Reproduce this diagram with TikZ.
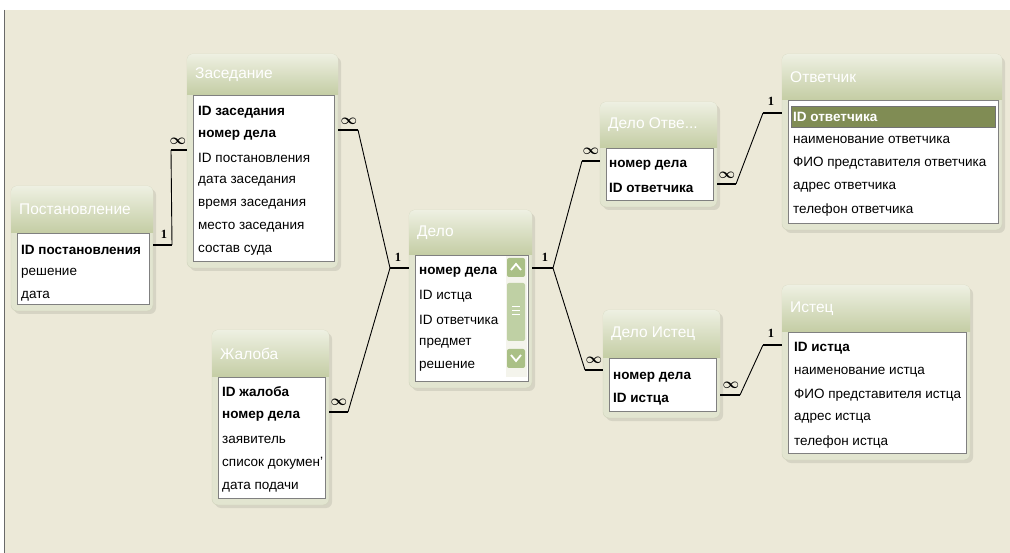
\documentclass[tikz,border=0pt]{standalone}
\usepackage{fontspec}
\setmainfont{Liberation Sans}
\newfontfamily\lblfont{Liberation Serif}
\usetikzlibrary{fit}
\definecolor{PanelBg} {RGB}{236,233,216}
\definecolor{PanelLn} {RGB}{105,105,105}
\definecolor{FrmFill} {RGB}{226,229,208}
\definecolor{FrmLine} {RGB}{208,211,188}
\definecolor{FrmShd}  {RGB}{214,212,196}
\definecolor{HdrTop}  {RGB}{238,240,226}
\definecolor{HdrBot}  {RGB}{196,205,164}
\definecolor{ListLine}{RGB}{128,128,128}
\definecolor{RowSel}  {RGB}{128,140,84}
\definecolor{ScrBtn}  {RGB}{170,192,134}
\definecolor{ScrTrk}  {RGB}{244,244,236}
\tikzset{
  tb_frame/.style={
    rectangle, rounded corners=6pt, fill=FrmFill, draw=FrmLine, inner sep=0pt},
  tb_list/.style={
    rectangle, fill=white, draw=ListLine, line width=0.8pt, inner sep=0pt},
  tb_title/.style={
    anchor=west, text=white, inner sep=0pt,
    font=\fontsize{15.5}{16}\selectfont},
  fld/.style={
    anchor=west, inner sep=0pt, font=\fontsize{13.5}{14}\selectfont},
  fld_key/.style={
    fld, font=\fontsize{13.5}{14}\selectfont\bfseries},
  stub/.style={line width=2.6pt, black},
  rel/.style={line width=0.9pt, black},
  lbl_one/.style={font=\lblfont\bfseries\fontsize{12.5}{12.5}\selectfont, inner sep=0pt},
  lbl_many/.style={font=\boldmath\fontsize{15}{15}\selectfont, inner sep=0pt},
}
%% name, x1, y1, x2, y2, list top, title
\newcommand{\dbtable}[7]{%
  \fill[FrmShd, rounded corners=6pt] ({#2+3},{#3+3}) rectangle ({#4+3},{#5+3});
  \node[tb_frame, fit={(#2,#3)(#4,#5)}] (#1) {};
  \shade[top color=HdrTop, bottom color=HdrBot]
    (#2,#6) [rounded corners=6pt] -- (#2,#3) -- (#4,#3) [sharp corners] -- (#4,#6) -- cycle;
  \node[tb_list, fit={({#2+6},#6)({#4-4},{#5-7})}] (#1l) {};
  \node[tb_title] (#1t) at ({#2+8},{(#3+#6)/2}) {#7};
}

\begin{document}
\begin{tikzpicture}[x=1pt,y=-1pt]

\useasboundingbox (0,0) rectangle (1010,553);
%% window background
\fill[white] (0,0) rectangle (1010,553);
\fill[PanelBg] (4,10) rectangle (1010,553);
\draw[PanelLn, line width=1.2pt] (4.6,10) -- (4.6,553);

%% tables
\dbtable{post}{11}{186}{153}{311}{233}{Постановление}
\dbtable{zas}{187}{54}{338}{268}{95}{Заседание}
\dbtable{zhal}{212}{330}{329}{505}{377}{Жалоба}
\dbtable{delo}{409}{210}{532}{388}{255}{Дело}
\dbtable{dotv}{600}{102}{717}{207}{148}{Дело Отве...}
\dbtable{dist}{603}{310}{720}{418}{358}{Дело Истец}
\dbtable{otv}{782}{54}{1002}{230}{100}{Ответчик}
\dbtable{ist}{782}{285}{970}{460}{332}{Истец}

%% Постановление
\node[fld_key] (post1) at (21,250) {ID постановления};
\node[fld]     (post2) at (21,273) {решение};
\node[fld]     (post3) at (21,296) {дата};

%% Заседание
\node[fld_key] (zas1) at (198,112) {ID заседания};
\node[fld_key] (zas2) at (198,135) {номер дела};
\node[fld]     (zas3) at (198,158) {ID постановления};
\node[fld]     (zas4) at (198,181) {дата заседания};
\node[fld]     (zas5) at (198,204) {время заседания};
\node[fld]     (zas6) at (198,227) {место заседания};
\node[fld]     (zas7) at (198,250) {состав суда};

%% Жалоба
\node[fld_key] (zhal1) at (222,392) {ID жалоба};
\node[fld_key] (zhal2) at (222,416) {номер дела};
\node[fld]     (zhal3) at (222,440) {заявитель};
\node[fld]     (zhal4) at (222,463) {список докумен'};
\node[fld]     (zhal5) at (222,487) {дата подачи};

%% Дело, with scroll bar
\fill[ScrTrk] (506,256) rectangle (527,377);
\fill[ScrBtn, rounded corners=2pt] (507,258) rectangle (525,277);
\fill[ScrBtn!75, rounded corners=2pt] (507,283) rectangle (525,341);
\fill[ScrBtn, rounded corners=2pt] (507,349) rectangle (525,368);
\draw[white, line width=1.8pt] (511,270) -- (516,264) -- (521,270);
\draw[white, line width=1.8pt] (511,355) -- (516,361) -- (521,355);
\foreach \y in {306,310,314} {\draw[white, line width=0.8pt] (512,\y) -- (520,\y);}
\node[fld_key] (delo1) at (419,272) {номер дела};
\node[fld]     (delo2) at (419,296) {ID истца};
\node[fld]     (delo3) at (419,320) {ID ответчика};
\node[fld]     (delo4) at (419,343) {предмет};
\node[fld]     (delo5) at (419,366) {решение};

%% Дело Отве...
\node[fld_key] (dotv1) at (609,165) {номер дела};
\node[fld_key] (dotv2) at (609,188) {ID ответчика};

%% Дело Истец
\node[fld_key] (dist1) at (613,377) {номер дела};
\node[fld_key] (dist2) at (613,399) {ID истца};

%% Ответчик
\node[fill=RowSel, draw=black!55, fit={(791,106)(995,127)}, inner sep=0pt] (otvsel) {};
\node[fld_key, text=white] (otv1) at (793,117) {ID ответчика};
\node[fld] (otv2) at (793,140) {наименование ответчика};
\node[fld] (otv3) at (793,163) {ФИО представителя ответчика};
\node[fld] (otv4) at (793,187) {адрес ответчика};
\node[fld] (otv5) at (793,210) {телефон ответчика};

%% Истец
\node[fld_key] (ist1) at (794,348) {ID истца};
\node[fld]     (ist2) at (794,372) {наименование истца};
\node[fld]     (ist3) at (794,395) {ФИО представителя истца};
\node[fld]     (ist4) at (794,418) {адрес истца};
\node[fld]     (ist5) at (794,442) {телефон истца};

%% stub ends
\coordinate (postR) at (172,245);
\coordinate (zasL)  at (171,150);
\coordinate (zasR)  at (358,130);
\coordinate (zhalR) at (348,412);
\coordinate (deloL) at (390,268);
\coordinate (deloR) at (553,268);
\coordinate (dotvL) at (582,161);
\coordinate (dotvR) at (736,184);
\coordinate (distL) at (585,370);
\coordinate (distR) at (740,395);
\coordinate (otvL)  at (763,113);
\coordinate (istL)  at (763,345);

%% stubs
\draw[stub] (post.east |- postR) -- (postR);
\draw[stub] (zas.west |- zasL) -- (zasL);
\draw[stub] (zas.east |- zasR) -- (zasR);
\draw[stub] (zhal.east |- zhalR) -- (zhalR);
\draw[stub] (delo.west |- deloL) -- (deloL);
\draw[stub] (delo.east |- deloR) -- (deloR);
\draw[stub] (dotv.west |- dotvL) -- (dotvL);
\draw[stub] (dotv.east |- dotvR) -- (dotvR);
\draw[stub] (dist.west |- distL) -- (distL);
\draw[stub] (dist.east |- distR) -- (distR);
\draw[stub] (otv.west |- otvL) -- (otvL);
\draw[stub] (ist.west |- istL) -- (istL);

%% relationships
\draw[rel] (postR) -- (zasL);
\draw[rel] (zasR) -- (deloL);
\draw[rel] (zhalR) -- (deloL);
\draw[rel] (deloR) -- (dotvL);
\draw[rel] (deloR) -- (distL);
\draw[rel] (dotvR) -- (otvL);
\draw[rel] (distR) -- (istL);

%% cardinality labels
\node[lbl_one]  (c1)  at (164,234) {1};
\node[lbl_many] (c2)  at (178,141) {$\infty$};
\node[lbl_many] (c3)  at (349,121) {$\infty$};
\node[lbl_one]  (c4)  at (398,257) {1};
\node[lbl_many] (c5)  at (339,402) {$\infty$};
\node[lbl_one]  (c6)  at (545,257) {1};
\node[lbl_many] (c7)  at (591,151) {$\infty$};
\node[lbl_many] (c8)  at (594,360) {$\infty$};
\node[lbl_many] (c9)  at (727,175) {$\infty$};
\node[lbl_one]  (c10) at (771,101) {1};
\node[lbl_many] (c11) at (731,385) {$\infty$};
\node[lbl_one]  (c12) at (771,333) {1};

\end{tikzpicture}
\end{document}
